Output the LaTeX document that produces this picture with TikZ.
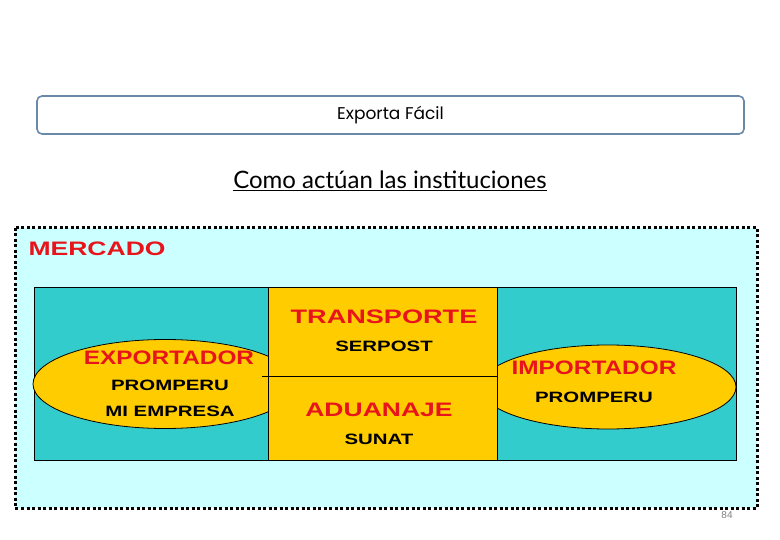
\documentclass[tikz,border=0pt]{standalone}
\usepackage{fontspec}
\setmainfont{Liberation Sans}
\newfontfamily\gothic{Poppins}
\newfontfamily\comic{Lato}
\usetikzlibrary{shapes.geometric}
\definecolor{hdr}{HTML}{6A88A8}
\definecolor{cyanbg}{HTML}{CCFFFF}
\definecolor{teal}{HTML}{33CCCC}
\definecolor{yel}{HTML}{FFCC00}
\definecolor{redt}{HTML}{E8141C}
\newcommand{\wide}[2][1.36]{\scalebox{#1}[1]{#2}}
\tikzset{
 redlab/.style={text=redt,font=\fontsize{19.5}{19}\selectfont\bfseries},
 blklab/.style={text=black,font=\fontsize{15}{15}\selectfont\bfseries},
 ell/.style={ellipse,draw=black,fill=yel,line width=0.8pt,inner sep=0pt}
}
\begin{document}
\begin{tikzpicture}[x=1pt,y=-1pt]
\useasboundingbox (0,0) rectangle (780,540);
\node (hdr) [draw=hdr,line width=1.6pt,rounded corners=5pt,minimum width=707pt,minimum height=38pt] at (390.5,115) {\gothic\fontsize{17}{17}\selectfont Exporta Fácil};
\node (ttl) at (390,181) {\comic\fontsize{24}{24}\selectfont\underline{Como actúan las instituciones}};
\draw[fill=cyanbg,draw=black,line width=3pt,dash pattern=on 3pt off 2.5pt] (15,228) rectangle (757,508);
\node (merc) [redlab,anchor=west] at (25,249) {\wide{MERCADO}};
\draw[fill=teal,draw=black,line width=1pt] (34,288) rectangle (736,460);
\node (le) [ell,minimum width=264pt,minimum height=89pt] at (165,384) {};
\node (re) [ell,minimum width=256pt,minimum height=84pt] at (608,387) {};
\draw[fill=yel,draw=black,line width=1pt] (268,288) rectangle (497,460);
\draw[line width=0.8pt] (262,376) -- (497,376);
\node (tr) [redlab] at (384,317) {\wide[1.39]{TRANSPORTE}};
\node (sp) [blklab] at (384,346) {\wide{SERPOST}};
\node (ad) [redlab] at (379,410) {\wide{ADUANAJE}};
\node (su) [blklab] at (379,439) {\wide{SUNAT}};
\node (ex) [redlab] at (169,358) {\wide[1.25]{EXPORTADOR}};
\node (pr1) [blklab] at (170,385) {\wide{PROMPERU}};
\node (me) [blklab] at (170,411) {\wide{MI EMPRESA}};
\node (im) [redlab] at (594,368) {\wide[1.25]{IMPORTADOR}};
\node (pr2) [blklab] at (594,397) {\wide{PROMPERU}};
\node (pg) [text=gray,font=\fontsize{10}{10}\selectfont] at (727,515) {84};
\end{tikzpicture}
\end{document}
